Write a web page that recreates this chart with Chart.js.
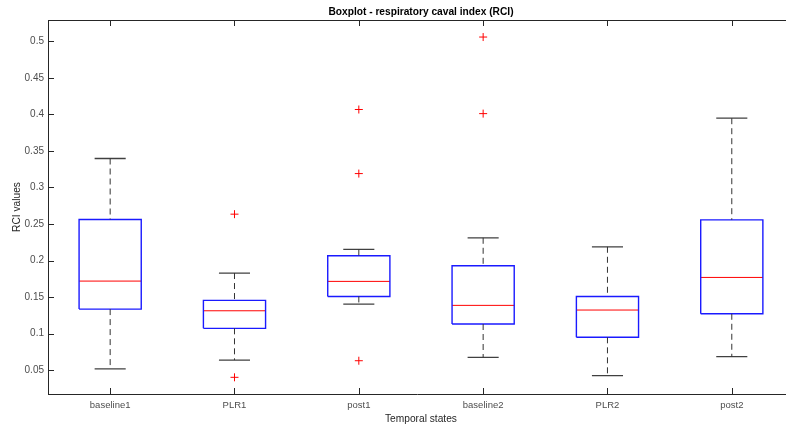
<!DOCTYPE html>
<html>
<head>
<meta charset="utf-8">
<script src="https://cdn.jsdelivr.net/npm/chart.js@4"></script>
<style>
  html, body { margin: 0; padding: 0; background: #fff; overflow: hidden; }
  canvas { display: block; }
</style>
</head>
<body>
<canvas id="chart" width="786" height="428"></canvas>
<script>
// RCI per temporal state: whisker ends, quartiles, median and outliers
var categories = ["baseline1", "PLR1", "post1", "baseline2", "PLR2", "post2"];
var lowerWhisker = [0.052, 0.064, 0.1405, 0.0678, 0.0426, 0.0686];
var q1 = [0.1337, 0.1074, 0.151, 0.1133, 0.0951, 0.1273];
var median = [0.172, 0.1314, 0.1716, 0.1388, 0.1324, 0.177];
var q3 = [0.2563, 0.1456, 0.2066, 0.1929, 0.151, 0.2557];
var upperWhisker = [0.3396, 0.183, 0.2153, 0.2312, 0.2189, 0.3947];
var outliers = [[], [0.2635, 0.0404], [0.4066, 0.319, 0.0631], [0.5057, 0.401], [], []];
var yTicks = [0.05, 0.1, 0.15, 0.2, 0.25, 0.3, 0.35, 0.4, 0.45, 0.5];

var boxHalf = 0.25;
var capHalf = 0.125;
var gap = { x: NaN, y: NaN };

// build line paths for each part of the boxes, separated by gaps
var boxPts = [], medPts = [], whiskPts = [], capPts = [], outPts = [];
categories.forEach(function (c, i) {
  var x = i + 1;
  boxPts.push({ x: x - boxHalf, y: q1[i] }, { x: x + boxHalf, y: q1[i] },
    { x: x + boxHalf, y: q3[i] }, { x: x - boxHalf, y: q3[i] },
    { x: x - boxHalf, y: q1[i] }, gap);
  medPts.push({ x: x - boxHalf, y: median[i] }, { x: x + boxHalf, y: median[i] }, gap);
  whiskPts.push({ x: x, y: upperWhisker[i] }, { x: x, y: q3[i] }, gap,
    { x: x, y: q1[i] }, { x: x, y: lowerWhisker[i] }, gap);
  capPts.push({ x: x - capHalf, y: upperWhisker[i] }, { x: x + capHalf, y: upperWhisker[i] }, gap,
    { x: x - capHalf, y: lowerWhisker[i] }, { x: x + capHalf, y: lowerWhisker[i] }, gap);
  outliers[i].forEach(function (v) { outPts.push({ x: x, y: v }); });
});

function lineSet(data, color, width, dash) {
  return {
    data: data, showLine: true, borderColor: color, borderWidth: width,
    borderDash: dash || [], pointRadius: 0, pointHoverRadius: 0,
    spanGaps: false, fill: false
  };
}

var font = "'Liberation Sans', Arial, Helvetica, sans-serif";
var axisColor = "#262626";

// MATLAB-style frame: top edge, inward ticks, title and x label centred on the axes
var frame = {
  id: "frame",
  afterDraw: function (chart) {
    var ctx = chart.ctx, a = chart.chartArea;
    var xs = chart.scales.x, ys = chart.scales.y;
    var mid = xs.getPixelForValue((categories.length + 1) / 2);
    ctx.save();
    ctx.strokeStyle = axisColor;
    ctx.lineWidth = 1;
    ctx.beginPath();
    ctx.moveTo(a.left, a.top + 0.5);
    ctx.lineTo(a.right, a.top + 0.5);
    xs.ticks.forEach(function (t) {
      var px = Math.round(xs.getPixelForValue(t.value)) + 0.5;
      ctx.moveTo(px, a.bottom); ctx.lineTo(px, a.bottom - 6);
      ctx.moveTo(px, a.top); ctx.lineTo(px, a.top + 6);
    });
    ys.ticks.forEach(function (t) {
      var py = Math.round(ys.getPixelForValue(t.value)) + 0.5;
      ctx.moveTo(a.left, py); ctx.lineTo(a.left + 6, py);
    });
    ctx.stroke();
    ctx.textAlign = "center";
    ctx.textBaseline = "middle";
    ctx.fillStyle = "#000";
    ctx.font = "bold 10.2px " + font;
    ctx.fillText("Boxplot - respiratory caval index (RCI)", mid, 12);
    ctx.fillStyle = axisColor;
    ctx.font = "10.2px " + font;
    ctx.fillText("Temporal states", mid, a.bottom + 25);
    ctx.restore();
  }
};

var ctx = document.getElementById("chart").getContext("2d");
new Chart(ctx, {
  type: "scatter",
  data: {
    datasets: [
      lineSet(whiskPts, "#333333", 1, [6, 4]),
      lineSet(capPts, "#404040", 1.3),
      lineSet(boxPts, "#1a1aff", 1.4),
      lineSet(medPts, "#ff0000", 1),
      {
        data: outPts, pointStyle: "cross", pointRadius: 4, pointHoverRadius: 4,
        pointBorderColor: "#ff0000", pointBorderWidth: 1, showLine: false
      }
    ]
  },
  options: {
    responsive: false,
    animation: false,
    layout: { autoPadding: false, padding: { top: 20, right: 0, left: 0, bottom: 0 } },
    plugins: { legend: { display: false }, tooltip: { enabled: false }, title: { display: false } },
    scales: {
      x: {
        // axes run to 6.5 but the figure is cut off at the right edge
        type: "linear", min: 0.5, max: 6.436,
        afterBuildTicks: function (s) {
          s.ticks = categories.map(function (c, i) { return { value: i + 1 }; });
        },
        afterFit: function (s) { s.height = 34; s.paddingLeft = 0; s.paddingRight = 0; },
        grid: { display: false, drawTicks: false },
        border: { display: true, color: axisColor },
        ticks: {
          padding: 6, color: "#4d4d4d", font: { family: font, size: 9.5 },
          maxRotation: 0, autoSkip: false,
          callback: function (v) { return categories[v - 1]; }
        },
        title: { display: false }
      },
      y: {
        min: 0.0176, max: 0.529,
        afterBuildTicks: function (s) {
          s.ticks = yTicks.map(function (v) { return { value: v }; });
        },
        afterFit: function (s) { s.width = 48; },
        grid: { display: false, drawTicks: false },
        border: { display: true, color: axisColor },
        ticks: {
          padding: 4, color: "#4d4d4d", font: { family: font, size: 10 },
          callback: function (v) { return String(Number(v.toFixed(2))); }
        },
        title: { display: true, text: "RCI values", color: axisColor, font: { family: font, size: 10.2 }, padding: { top: 11, bottom: 0 } }
      }
    }
  },
  plugins: [frame]
});
</script>
</body>
</html>
